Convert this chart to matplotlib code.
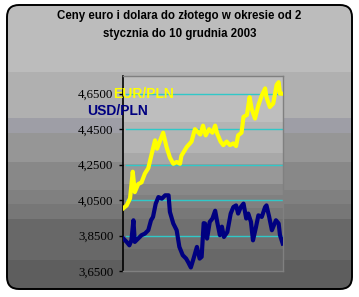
"""
Ceny euro i dolara do zlotego, 2003 - chart rebuild
"""

import matplotlib
matplotlib.use("Agg")
import matplotlib.pyplot as plt
import numpy as np
from matplotlib.patches import FancyBboxPatch
from matplotlib.colors import to_rgb

TITLE = "Ceny euro i dolara do złotego w okresie od 2\nstycznia do 10 grudnia 2003"

# trading day index (0 = 2 Jan 2003) and rate
eur_days = [0, 5, 10, 14, 17, 22, 27, 32, 37, 42, 47, 50, 54, 59, 64, 69, 74, 79,
            84, 86, 94, 101, 106, 114, 118, 122, 127, 132, 136, 139, 144, 148,
            153, 158, 163, 167, 170, 175, 178, 183, 187, 190, 195, 200, 205, 210,
            212, 217, 222, 227, 230, 232, 236]
eur_pln = [4.004, 4.02, 4.06, 4.21, 4.095, 4.14, 4.15, 4.20, 4.23, 4.31, 4.387,
           4.34, 4.38, 4.43, 4.35, 4.29, 4.255, 4.265, 4.255, 4.30, 4.35, 4.38,
           4.45, 4.42, 4.47, 4.415, 4.45, 4.43, 4.47, 4.425, 4.38, 4.36, 4.38,
           4.36, 4.37, 4.355, 4.415, 4.43, 4.52, 4.53, 4.63, 4.565, 4.51, 4.585,
           4.64, 4.68, 4.63, 4.575, 4.595, 4.70, 4.715, 4.65, 4.65]

usd_days = [0, 5, 9, 12, 15, 17, 22, 27, 32, 37, 41, 44, 48, 52, 57, 62, 67, 69,
            74, 79, 83, 88, 93, 96, 100, 104, 109, 113, 116, 119, 121, 124, 128,
            132, 136, 139, 143, 146, 149, 154, 159, 163, 167, 170, 174, 178, 182,
            185, 189, 192, 196, 200, 205, 210, 212, 216, 220, 223, 226, 230, 232,
            236]
usd_pln = [3.833, 3.814, 3.795, 3.823, 3.936, 3.814, 3.833, 3.852, 3.861, 3.88,
           3.936, 3.955, 4.03, 4.067, 4.058, 4.077, 4.077, 3.983, 3.918, 3.88,
           3.786, 3.739, 3.72, 3.70, 3.67, 3.72, 3.786, 3.72, 3.73, 3.92, 3.918,
           3.833, 3.927, 3.946, 3.99, 3.927, 3.852, 3.90, 3.842, 3.87, 3.974,
           4.011, 4.02, 3.974, 4.011, 4.03, 3.946, 3.974, 3.927, 3.823, 3.89,
           3.964, 3.955, 4.011, 4.02, 3.955, 3.88, 3.908, 3.936, 3.918, 3.852,
           3.805]

y_ticks = [3.65, 3.85, 4.05, 4.25, 4.45, 4.65]

# background bands (top -> bottom)
outer_bands = [(5, "#bcbcbc"), (72, "#b0b0b0"), (118, "#9e9ea6"), (133, "#969696"),
               (162, "#888888"), (190, "#808080"), (204, "#777777"), (219, "#686868"),
               (260, "#5e5e5e"), (290, None)]
inner_bands = [(76, "#bebebe"), (122, "#b4b4b4"), (153, "#a8a8a8"), (164, "#989898"),
               (185, "#888888"), (196, "#808080"), (209, "#787878"), (220, "#707070"),
               (250, "#686868"), (272, None)]


def band_image(bands):
    top, bottom = bands[0][0], bands[-1][0]
    rows = []
    for (y0, c), (y1, _) in zip(bands[:-1], bands[1:]):
        rows += [to_rgb(c)] * (y1 - y0)
    return np.array(rows).reshape(bottom - top, 1, 3)


W, H = 359, 297
fig = plt.figure(figsize=(W / 100, H / 100), dpi=100, facecolor="white")

# rounded frame with banded fill
bg = fig.add_axes([0, 0, 1, 1])
bg.set_xlim(0, W)
bg.set_ylim(H, 0)
bg.axis("off")
frame = FancyBboxPatch((7, 5), 345, 284, boxstyle="round,pad=0,rounding_size=12",
                       facecolor="none", edgecolor="black", linewidth=1.4, zorder=3)
bg.add_patch(frame)
img = bg.imshow(band_image(outer_bands), extent=[7, 352, 290, 5], aspect="auto",
                interpolation="nearest", zorder=1)
img.set_clip_path(frame)

fig.text(0.5, 1 - 25 / H, TITLE, ha="center", va="center", fontsize=8.3,
         fontweight="bold", family="Liberation Sans", linespacing=1.6)

# plot area
left, right, top, bottom = 123.3, 282.7, 76, 271
ax = fig.add_axes([left / W, 1 - bottom / H, (right - left) / W, (bottom - top) / H])
ax.imshow(band_image(inner_bands), extent=[0, 1, 0, 1], transform=ax.transAxes,
          aspect="auto", interpolation="nearest", zorder=0)

for v in y_ticks[1:]:
    ax.axhline(v, xmin=0.02, xmax=1, color="#30c8c8", linewidth=1.0, zorder=1)

ax.plot(eur_days, eur_pln, color="#ffff00", linewidth=3.0, zorder=3)
ax.plot(usd_days, usd_pln, color="#000080", linewidth=3.0, zorder=3)

ax.set_xlim(0, 236)
ax.set_ylim(3.65, 4.75)
ax.set_xticks([])
ax.set_yticks(y_ticks)
ax.set_yticklabels([f"{v:.4f}".replace(".", ",") for v in y_ticks],
                   family="Liberation Serif", fontsize=9.3)
ax.tick_params(axis="y", direction="out", length=3, width=1, pad=4, colors="black")
ax.spines["left"].set_color("black")
ax.spines["left"].set_linewidth(1.2)
for s in ("top", "right", "bottom"):
    ax.spines[s].set_color("#808080")
    ax.spines[s].set_linewidth(1.0)

fig.text(113 / W, 1 - 94 / H, "EUR/PLN", color="#ffff00", fontsize=10,
         fontweight="bold", family="Liberation Sans", va="center", ha="left")
fig.text(87 / W, 1 - 111 / H, "USD/PLN", color="#000080", fontsize=10,
         fontweight="bold", family="Liberation Sans", va="center", ha="left")

fig.savefig("out.png", dpi=100, facecolor="white")
plt.close(fig)
